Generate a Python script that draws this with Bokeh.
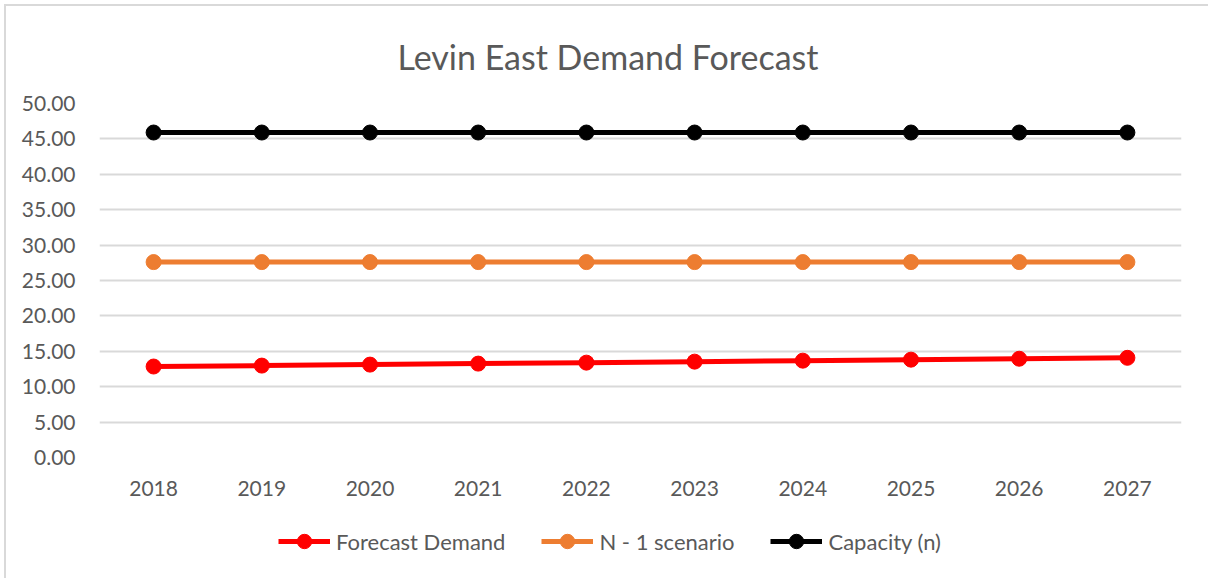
from bokeh.plotting import figure
from bokeh.layouts import column
from bokeh.models import (Legend, LegendItem, NumeralTickFormatter, SingleIntervalTicker,
                          Range1d, FactorRange)
from bokeh.embed import file_html
from bokeh.resources import INLINE

# Forecast data (MVA)
years = ["2018", "2019", "2020", "2021", "2022", "2023", "2024", "2025", "2026", "2027"]
forecast_demand = [12.85, 12.98, 13.12, 13.26, 13.40, 13.54, 13.68, 13.82, 13.95, 14.08]
n1_scenario = [27.6, 27.6, 27.6, 27.6, 27.6, 27.6, 27.6, 27.6, 27.6, 27.6]
capacity_n = [45.9, 45.9, 45.9, 45.9, 45.9, 45.9, 45.9, 45.9, 45.9, 45.9]

series = [
    ("Forecast Demand", forecast_demand, "#FF0000"),
    ("N - 1 scenario", n1_scenario, "#ED7D31"),
    ("Capacity (n)", capacity_n, "#000000"),
]

FONT = "Lato"
TEXT = "#595959"
GRID = "#D9D9D9"

# main chart
p = figure(width=1202, height=511, x_range=FactorRange(*years), y_range=Range1d(0, 50),
           output_backend="svg", toolbar_location=None,
           min_border_left=93, min_border_right=27, min_border_top=97, min_border_bottom=60)
p.outline_line_color = None
p.background_fill_color = "white"
p.border_fill_color = "white"

p.title.text = "Levin East Demand Forecast"
p.title.align = "left"
p.title.offset = 298
p.title.standoff = 53
p.title.text_font = FONT
p.title.text_font_size = "34px"
p.title.text_font_style = "normal"
p.title.text_color = TEXT

p.yaxis.ticker = SingleIntervalTicker(interval=5)
p.yaxis.formatter = NumeralTickFormatter(format="0.00")
for ax in (p.xaxis[0], p.yaxis[0]):
    ax.axis_line_color = None
    ax.major_tick_line_color = None
    ax.minor_tick_line_color = None
    ax.major_label_text_font = FONT
    ax.major_label_text_font_size = "21px"
    ax.major_label_text_color = TEXT
p.yaxis.major_label_standoff = 18
p.xaxis.major_label_standoff = 17
p.xgrid.grid_line_color = None
p.ygrid.grid_line_color = GRID
p.ygrid.grid_line_width = 2

for name, vals, color in series:
    p.line(years, vals, line_color=color, line_width=5)
    p.scatter(years, vals, size=15, fill_color=color, line_color=color)

# legend strip underneath the chart (its frame lines up with the chart frame)
lg = figure(width=1202, height=61, x_range=Range1d(0, 1), y_range=Range1d(0, 1),
            output_backend="svg", toolbar_location=None,
            min_border_left=0, min_border_right=0, min_border_top=0, min_border_bottom=0)
lg.axis.visible = False
lg.grid.visible = False
lg.outline_line_color = None
lg.border_fill_color = "white"

# legend proxies: the series values all lie above this strip's 0..1 range
items = []
for name, vals, color in series:
    idx = list(range(len(vals)))
    ln = lg.line(idx, vals, line_color=color, line_width=5)
    sc = lg.scatter(idx, vals, size=15, fill_color=color, line_color=color)
    items.append(LegendItem(label=name, renderers=[ln, sc]))

legend = Legend(items=items, orientation="horizontal", location=(179, 19),
                label_text_font=FONT, label_text_font_size="22px", label_text_color=TEXT,
                glyph_width=52, glyph_height=36, label_standoff=6, spacing=36,
                padding=0, margin=0, border_line_color=None, background_fill_alpha=0)
lg.add_layout(legend)

page = column(p, lg, spacing=0,
              styles={"margin-left": "4px", "margin-top": "4px",
                      "border-left": "2px solid #D9D9D9", "border-top": "2px solid #D9D9D9"})

open("out.html", "w").write(file_html(page, INLINE))
